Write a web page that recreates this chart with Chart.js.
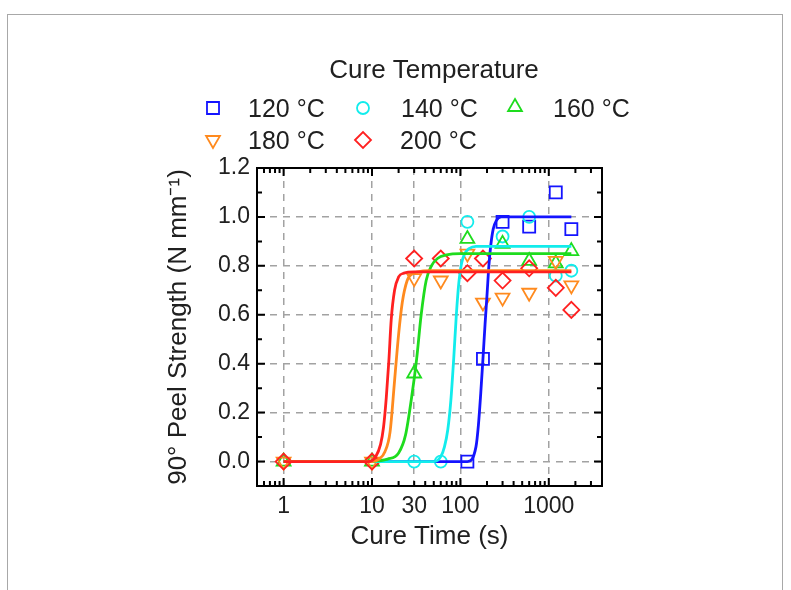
<!DOCTYPE html>
<html>
<head>
<meta charset="utf-8">
<script src="https://cdn.jsdelivr.net/npm/chart.js@4/dist/chart.umd.min.js"></script>
<style>
  body { margin: 0; background: #fff; }
  #frame { position: absolute; left: 7px; top: 14px; width: 774px; height: 600px; border: 1px solid #a8a8a8; }
  #peel { position: absolute; left: 0; top: 0; }
</style>
</head>
<body>
<div id="frame"></div>
<canvas id="peel" width="791" height="590"></canvas>
<script>
// legend / series names
const legendTitle = 'Cure Temperature';
const temps = ['120 °C', '140 °C', '160 °C', '180 °C', '200 °C'];
const colors = ['#1414ff', '#12ecec', '#1edc1e', '#ff8a1e', '#ff2020'];
const styles = ['rect', 'circle', 'triangle', 'triangle', 'rectRot'];

// measured peel strength (N/mm) vs cure time (s)
const t120 = [120, 180, 300, 600, 1200, 1800];
const p120 = [0.00, 0.42, 0.98, 0.96, 1.10, 0.95];
const t140 = [30, 60, 120, 300, 600, 1200, 1800];
const p140 = [0.00, 0.00, 0.98, 0.92, 1.00, 0.76, 0.78];
const t160 = [1, 10, 30, 120, 300, 600, 1200, 1800];
const p160 = [0.00, 0.00, 0.36, 0.91, 0.89, 0.82, 0.81, 0.86];
const t180 = [1, 10, 30, 60, 120, 180, 300, 600, 1200, 1800];
const p180 = [0.00, 0.00, 0.75, 0.74, 0.85, 0.65, 0.67, 0.69, 0.82, 0.72];
const t200 = [1, 10, 30, 60, 120, 180, 300, 600, 1200, 1800];
const p200 = [0.00, 0.00, 0.83, 0.83, 0.77, 0.83, 0.74, 0.79, 0.71, 0.62];

// fitted curves
const fitT120 = [1, 120, 150, 160, 170, 180, 190, 200, 210, 220, 235, 255, 290, 1800];
const fitP120 = [0, 0, 0.06, 0.15, 0.28, 0.42, 0.56, 0.68, 0.80, 0.88, 0.95, 0.985, 1.0, 1.0];
const fitT140 = [1, 50, 60, 66, 72, 78, 84, 90, 96, 103, 112, 125, 150, 1800];
const fitP140 = [0, 0, 0.02, 0.06, 0.13, 0.25, 0.42, 0.60, 0.73, 0.81, 0.85, 0.87, 0.88, 0.88];
const fitT160 = [1, 10, 15, 20, 24, 28, 32, 36, 41, 47, 55, 70, 100, 1800];
const fitP160 = [0, 0.002, 0.01, 0.035, 0.11, 0.26, 0.42, 0.60, 0.74, 0.80, 0.83, 0.845, 0.85, 0.85];
const fitT180 = [1, 10, 12, 14, 16, 18, 20, 22, 25, 28, 33, 45, 1800];
const fitP180 = [0, 0, 0.01, 0.04, 0.12, 0.33, 0.52, 0.65, 0.74, 0.765, 0.775, 0.78, 0.78];
const fitT200 = [1, 9, 11, 12.5, 13.5, 14.5, 15.5, 16.5, 18, 20, 23, 30, 1800];
const fitP200 = [0, 0, 0.02, 0.07, 0.14, 0.26, 0.41, 0.58, 0.70, 0.755, 0.77, 0.775, 0.775];

// axes
const xTicks = [1, 10, 30, 100, 1000];
const yTicks = [0, 0.2, 0.4, 0.6, 0.8, 1.0, 1.2];
const yMinor = [0.1, 0.3, 0.5, 0.7, 0.9, 1.1];

const textColor = '#202020';
const fontFamily = '"Liberation Sans", Arial, sans-serif';

const toPoints = (xs, ys) => xs.map((x, i) => ({ x: x, y: ys[i] }));

const measured = [[t120, p120], [t140, p140], [t160, p160], [t180, p180], [t200, p200]];
const fits = [[fitT120, fitP120], [fitT140, fitP140], [fitT160, fitP160], [fitT180, fitP180], [fitT200, fitP200]];
const radii = [8.5, 6, 8, 8, 8];

const datasets = [];
fits.forEach((f, i) => {
    datasets.push({
        label: temps[i] + ' fit',
        data: toPoints(f[0], f[1]),
        showLine: true,
        borderColor: colors[i],
        borderWidth: 2.8,
        pointRadius: 0,
        cubicInterpolationMode: 'monotone',
        order: 4 - i
    });
});
measured.forEach((m, i) => {
    datasets.push({
        label: temps[i],
        data: toPoints(m[0], m[1]),
        showLine: false,
        pointStyle: styles[i],
        rotation: i === 3 ? 180 : 0,
        pointRadius: radii[i],
        pointBorderWidth: 1.8,
        pointBorderColor: colors[i],
        pointBackgroundColor: 'rgba(0,0,0,0)',
        order: 10 + (4 - i)
    });
});

// custom legend in three columns
const legendBox = {
    id: 'legendBox',
    afterDraw(chart) {
        const ctx = chart.ctx;
        const slots = [
            { mx: 213, my: 108, tx: 248, ty: 117 },
            { mx: 363, my: 108, tx: 401, ty: 117 },
            { mx: 515, my: 107, tx: 553, ty: 117 },
            { mx: 213, my: 140, tx: 248, ty: 149 },
            { mx: 363, my: 140, tx: 400, ty: 149 }
        ];
        ctx.save();
        ctx.fillStyle = textColor;
        ctx.font = '26px ' + fontFamily;
        ctx.textAlign = 'center';
        ctx.fillText(legendTitle, 434, 78);
        ctx.font = '25px ' + fontFamily;
        ctx.textAlign = 'left';
        temps.forEach((label, i) => {
            const s = slots[i];
            ctx.fillStyle = 'rgba(0,0,0,0)';
            ctx.strokeStyle = colors[i];
            ctx.lineWidth = 1.8;
            Chart.helpers.drawPoint(ctx, {
                pointStyle: styles[i],
                radius: radii[i],
                rotation: i === 3 ? 180 : 0,
                borderWidth: 1.8
            }, s.mx, s.my);
            ctx.fillStyle = textColor;
            ctx.fillText(label, s.tx, s.ty);
        });
        ctx.restore();
    }
};

// black frame with inward ticks on all four sides
const frameTicks = {
    id: 'frameTicks',
    afterDraw(chart) {
        const { ctx, chartArea: a, scales: { x, y } } = chart;
        const xMajor = [1, 10, 100, 1000];
        const xMinor = [];
        [0.1, 1, 10, 100, 1000].forEach(d => {
            for (let k = 2; k <= 9; k++) {
                const v = d * k;
                if (v > x.min && v < x.max) xMinor.push(v);
            }
        });
        ctx.save();
        ctx.strokeStyle = '#000';
        ctx.lineWidth = 2;
        ctx.beginPath();
        const vTick = (v, len) => {
            const px = x.getPixelForValue(v);
            ctx.moveTo(px, a.bottom); ctx.lineTo(px, a.bottom - len);
            ctx.moveTo(px, a.top); ctx.lineTo(px, a.top + len);
        };
        const hTick = (v, len) => {
            const py = y.getPixelForValue(v);
            ctx.moveTo(a.left, py); ctx.lineTo(a.left + len, py);
            ctx.moveTo(a.right, py); ctx.lineTo(a.right - len, py);
        };
        xMajor.forEach(v => vTick(v, 8));
        xMinor.forEach(v => vTick(v, 5));
        yTicks.forEach(v => hTick(v, 8));
        yMinor.forEach(v => hTick(v, 5));
        ctx.stroke();
        ctx.strokeRect(a.left, a.top, a.right - a.left, a.bottom - a.top);
        ctx.restore();
    }
};

new Chart(document.getElementById('peel'), {
    type: 'scatter',
    data: { datasets: datasets },
    plugins: [legendBox, frameTicks],
    options: {
        responsive: false,
        animation: false,
        devicePixelRatio: 1,
        layout: { padding: { left: 160, top: 168, right: 189, bottom: 34 } },
        plugins: {
            legend: { display: false },
            tooltip: { enabled: false }
        },
        scales: {
            x: {
                type: 'logarithmic',
                min: 0.5,
                max: 4000,
                afterBuildTicks: axis => { axis.ticks = xTicks.map(v => ({ value: v })); },
                afterFit: axis => { axis.height = 70; },
                ticks: {
                    autoSkip: false,
                    maxRotation: 0,
                    padding: 7,
                    color: textColor,
                    font: { family: fontFamily, size: 23 },
                    callback: v => String(v)
                },
                grid: { color: '#a2a2a2', lineWidth: 1.5, drawTicks: false },
                border: { display: false, dash: [7, 6] },
                title: {
                    display: true,
                    text: 'Cure Time (s)',
                    color: textColor,
                    font: { family: fontFamily, size: 26 },
                    padding: { top: 0, bottom: 4 }
                }
            },
            y: {
                min: -0.1,
                max: 1.2,
                afterBuildTicks: axis => { axis.ticks = yTicks.map(v => ({ value: v })); },
                afterFit: axis => { axis.width = 97; },
                ticks: {
                    padding: 7,
                    color: textColor,
                    font: { family: fontFamily, size: 23 },
                    callback: v => v.toFixed(1)
                },
                grid: {
                    color: c => (c.tick && c.tick.value >= 1.2 ? 'rgba(0,0,0,0)' : '#a2a2a2'),
                    lineWidth: 1.5,
                    drawTicks: false
                },
                border: { display: false, dash: [7, 6] },
                title: {
                    display: true,
                    text: '90° Peel Strength (N mm⁻¹)',
                    color: textColor,
                    font: { family: fontFamily, size: 26 },
                    padding: { top: 3, bottom: 0 }
                }
            }
        }
    }
});
</script>
</body>
</html>
